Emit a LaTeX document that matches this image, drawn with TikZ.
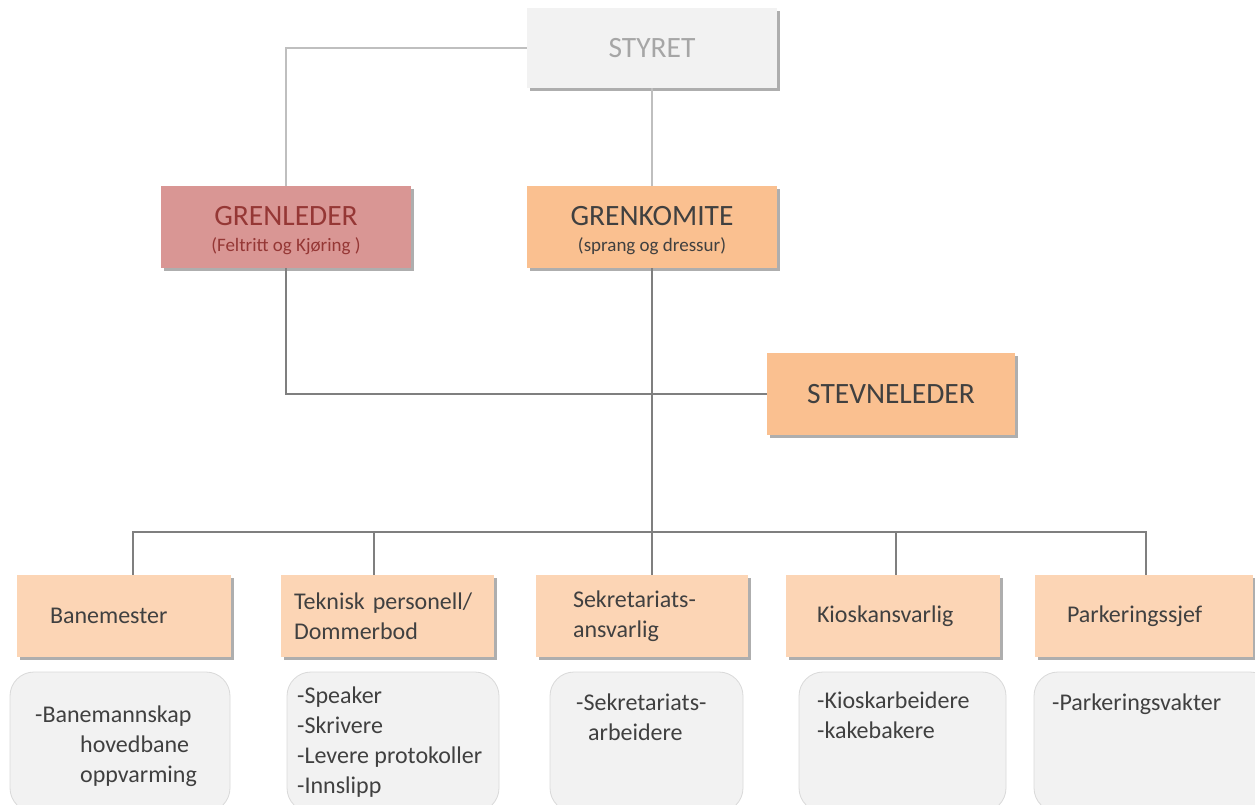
\documentclass[tikz,border=0pt]{standalone}
\usepackage{fontspec}
\setmainfont{Carlito}
\usetikzlibrary{positioning,shadows}

\definecolor{boardfill}{HTML}{F2F2F2}
\definecolor{boardtext}{HTML}{A6A6A6}
\definecolor{leaderfill}{HTML}{D99694}
\definecolor{leadertext}{HTML}{953735}
\definecolor{committeefill}{HTML}{FAC090}
\definecolor{stafffill}{HTML}{FCD5B5}
\definecolor{listline}{HTML}{D9D9D9}
\definecolor{darktext}{HTML}{404040}
\definecolor{toplink}{HTML}{BFBFBF}
\definecolor{lowlink}{HTML}{7F7F7F}

\begin{document}
\begin{tikzpicture}[
  x=1pt, y=-1pt,
  orgbox/.style={draw=none, minimum height=82pt, inner sep=0pt, align=center,
    text=darktext,
    drop shadow={shadow xshift=3pt, shadow yshift=-3pt, opacity=0.45, fill=black!70}},
  headbox/.style={orgbox, font=\fontsize{19}{26}\selectfont},
  staffbox/.style={orgbox, fill=stafffill, minimum height=82pt, align=left,
    font=\fontsize{24}{30}\selectfont},
  listbox/.style={draw=listline, fill=boardfill, rounded corners=24pt, line width=0.8pt},
  listtext/.style={anchor=north west, inner sep=0pt, align=left, text=darktext,
    font=\fontsize{24}{30}\selectfont},
  toplinkline/.style={draw=toplink, line width=1.3pt},
  lowlinkline/.style={draw=lowlink, line width=1.3pt}
]
  \useasboundingbox (0,0) rectangle (1255,805);

  % --- top level ---
  \node[orgbox, fill=boardfill, minimum width=250pt, minimum height=80pt,
        text=boardtext, font=\fontsize{29.5}{30}\selectfont] (styret) at (652,48) {STYRET};

  \node[headbox, fill=leaderfill, minimum width=250pt, text=leadertext] (grenleder) at (286,227)
    {\rule{0pt}{26pt}{\fontsize{29.5}{26}\selectfont GRENLEDER}\\(Feltritt og Kjøring )};
  \node[headbox, fill=committeefill, minimum width=250pt] (grenkomite) at (652,227)
    {\rule{0pt}{26pt}{\fontsize{29.5}{26}\selectfont GRENKOMITE}\\(sprang og dressur)};

  \node[orgbox, fill=committeefill, minimum width=248pt,
        font=\fontsize{29.5}{30}\selectfont] (stevneleder) at (891,394) {STEVNELEDER};

  % --- connectors, upper part ---
  \draw[toplinkline] (styret.west) -| (grenleder.north);
  \draw[toplinkline] (styret.south) -- (grenkomite.north);
  \draw[lowlinkline] (grenleder.south) |- (stevneleder.west);
  \coordinate (bus) at (652,532);
  \draw[lowlinkline] (grenkomite.south) -- (bus);

  % --- staff boxes: name/center x/width/left pad/shift of link/text ---
  \foreach \name/\cx/\w/\pad/\dx/\txt in {
      bane/124/214/33/9/{Banemester},
      teknisk/387.5/213/13/-13.5/{\mbox{Teknisk personell/}\\Dommerbod},
      sekr/642/212/37/10/{Sekretariats-\\ansvarlig},
      kiosk/893/214/31/3/{Kioskansvarlig},
      park/1144/218/32/2/{Parkeringssjef}} {
    \node[staffbox, minimum width=\w pt, text width=\w pt-2*\pad pt, inner xsep=\pad pt]
      (\name) at (\cx,616) {\txt};
    \draw[lowlinkline] (bus) -| ([xshift=\dx pt]\name.north);
  }

  % --- task lists under each staff box ---
  \node[listbox, minimum width=220pt, minimum height=140pt] (banelist) at (120,742) {};
  \node[listbox, minimum width=212pt, minimum height=140pt] (tekniklist) at (393,742) {};
  \node[listbox, minimum width=193pt, minimum height=140pt] (sekrlist) at (646.5,742) {};
  \node[listbox, minimum width=207pt, minimum height=140pt] (kiosklist) at (902.5,742) {};
  \node[listbox, minimum width=240pt, minimum height=140pt] (parklist) at (1154,742) {};

  \node[listtext] (banetext) at (35,706)
    {-Banemannskap\\\hspace*{45pt}hovedbane\\\hspace*{45pt}oppvarming};
  \node[listtext] (teknisktext) at (297,687)
    {-Speaker\\-Skrivere\\-Levere protokoller\\-Innslipp};
  \node[listtext] (sekrtext) at (576,694)
    {-Sekretariats-\\\hspace*{12pt}arbeidere};
  \node[listtext] (kiosktext) at (817,692)
    {-Kioskarbeidere\\-kakebakere};
  \node[listtext] (parktext) at (1052,694) {-Parkeringsvakter};
\end{tikzpicture}
\end{document}
